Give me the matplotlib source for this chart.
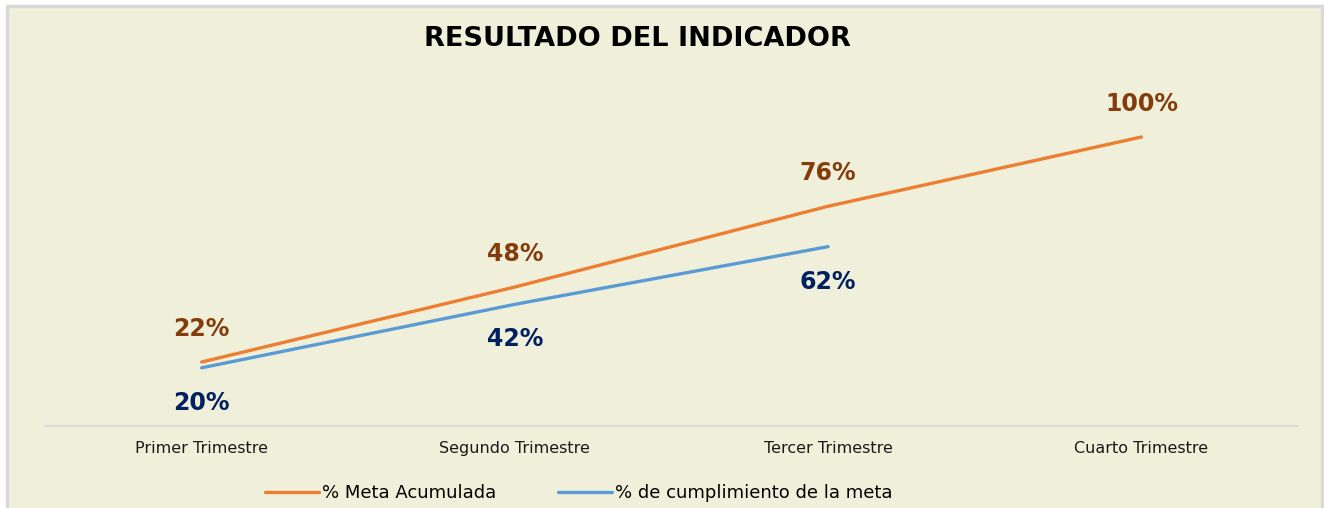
import matplotlib
matplotlib.use('Agg')
import matplotlib.pyplot as plt
from matplotlib.patches import Rectangle

# datos del indicador
trimestres = ["Primer Trimestre", "Segundo Trimestre", "Tercer Trimestre", "Cuarto Trimestre"]
meta_acumulada = [22, 48, 76, 100]
cumplimiento = [20, 42, 62]

ORANGE = '#ED7D31'
BLUE = '#5B9BD5'
BROWN = '#843C0C'
NAVY = '#002060'
BG = '#F0F0DA'

W, H = 1324, 508
fig = plt.figure(figsize=(W / 100, H / 100), dpi=100)
fig.patch.set_facecolor('white')

# marco del grafico (se corta por abajo como en la captura)
fig.patches.append(Rectangle((7 / W, -0.05), (1315 / W), 1 - 5.5 / H + 0.05,
                             transform=fig.transFigure, facecolor=BG,
                             edgecolor='#D9D9D9', linewidth=2.5, zorder=-10))

ymax = 110
px_per = 2.885
ax = fig.add_axes([45 / W, (H - 425.5) / H, 1253 / W, ymax * px_per / H])
ax.patch.set_alpha(0)

x = list(range(len(trimestres)))
ax.plot(x, meta_acumulada, color=ORANGE, linewidth=2.4, label='% Meta Acumulada',
        solid_capstyle='round')
ax.plot(x[:len(cumplimiento)], cumplimiento, color=BLUE, linewidth=2.4,
        label='% de cumplimiento de la meta', solid_capstyle='round')

for xi, v in zip(x, meta_acumulada):
    ax.annotate(f"{v}%", (xi, v), xytext=(0, 33), textcoords='offset pixels',
                ha='center', va='center', fontsize=17, fontweight='bold', color=BROWN)
for xi, v in zip(x, cumplimiento):
    ax.annotate(f"{v}%", (xi, v), xytext=(0, -35), textcoords='offset pixels',
                ha='center', va='center', fontsize=17, fontweight='bold', color=NAVY)

ax.set_xlim(-0.5, 3.5)
ax.set_ylim(0, ymax)
ax.set_xticks(x)
ax.set_xticklabels(trimestres, fontsize=11.5, color='#1a1a1a')
ax.tick_params(axis='x', length=0, pad=11)
ax.set_yticks([])
for s in ['top', 'left', 'right']:
    ax.spines[s].set_visible(False)
ax.spines['bottom'].set_color('#D9D9D9')
ax.spines['bottom'].set_linewidth(1.5)

fig.text(637 / W, 1 - 39 / H, "RESULTADO DEL INDICADOR", ha='center', va='center',
         fontsize=19.5, fontweight='bold', color='black')

handles, labels = ax.get_legend_handles_labels()
fig.legend(handles, labels, loc='center', bbox_to_anchor=(579 / W, 1 - 493 / H),
           ncol=2, frameon=False, fontsize=13, handlelength=3.0,
           handletextpad=0.17, columnspacing=3.4, borderpad=0.2)

fig.savefig('out.png', dpi=100, facecolor=fig.get_facecolor())
plt.close(fig)
